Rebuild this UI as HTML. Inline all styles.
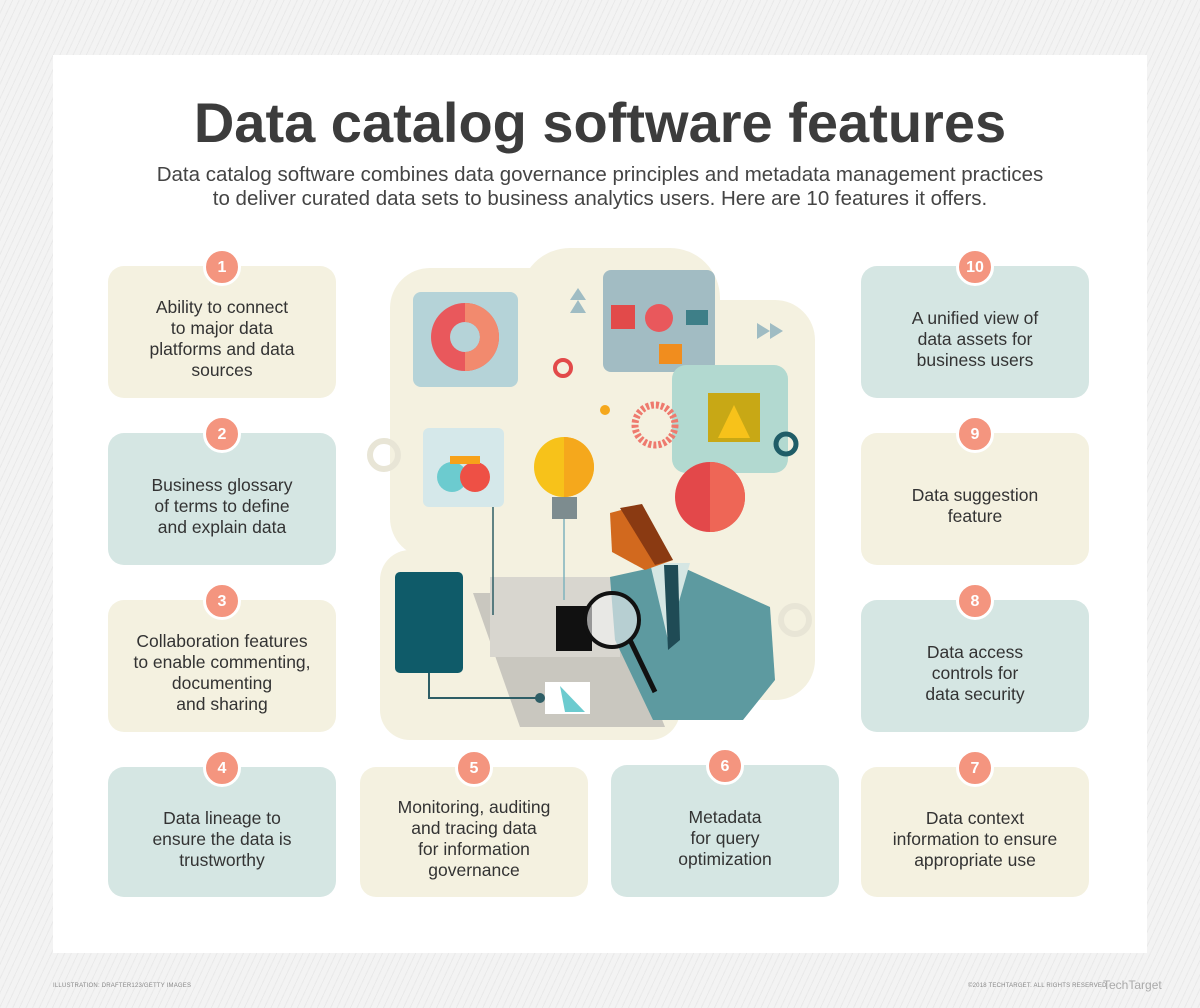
<!DOCTYPE html>
<html><head><meta charset="utf-8"><style>
*{margin:0;padding:0;box-sizing:border-box}
body{width:1200px;height:1008px;background:#f1f1f1;background-image:repeating-linear-gradient(115deg,#f3f3f3 0 5px,#e9e9e9 5px 6px);position:relative;overflow:hidden;font-family:"Liberation Sans",sans-serif;color:#3a3a3a}
.panel{position:absolute;left:53px;top:55px;width:1094px;height:898px;background:#fff}
h1{position:absolute;left:0;width:1200px;top:90px;text-align:center;font-size:56px;font-weight:bold;color:#3c3c3c;letter-spacing:0px}
.sub{position:absolute;left:0;width:1200px;top:163px;text-align:center;font-size:20.5px;line-height:24px;color:#444}
.card{position:absolute;width:228px;height:132px;border-radius:16px;display:flex;align-items:center;justify-content:center;text-align:center;font-size:17.5px;line-height:21px;padding:14px 8px 0;color:#333}
.c{background:#f4f1e0}.t{background:#d5e6e3}
.n{position:absolute;left:50%;top:-18px;margin-left:-19px;width:38px;height:38px;border-radius:50%;background:#f4957f;border:3px solid #fff;color:#fff;font-weight:bold;font-size:16px;display:flex;align-items:center;justify-content:center}
.foot{position:absolute;top:983px;font-size:6px;color:#888;letter-spacing:0.2px}
</style></head><body>
<div class="panel"></div>
<h1>Data catalog software features</h1>
<div class="sub">Data catalog software combines data governance principles and metadata management practices<br>to deliver curated data sets to business analytics users. Here are 10 features it offers.</div>

<svg style="position:absolute;left:0;top:0" width="1200" height="1008">
<g fill="#f4f1e0">
<rect x="390" y="268" width="190" height="290" rx="40"/>
<rect x="520" y="248" width="200" height="160" rx="50"/>
<rect x="640" y="300" width="175" height="400" rx="40"/>
<rect x="380" y="550" width="300" height="190" rx="30"/>
<rect x="470" y="400" width="300" height="300" rx="30"/>
</g>
<rect x="413" y="292" width="105" height="95" rx="8" fill="#b5d3d8"/>
<circle cx="465" cy="337" r="34" fill="#e9585c"/><circle cx="465" cy="337" r="15" fill="#b5d3d8"/>
<path d="M465 303 A34 34 0 0 1 465 371 L465 352 A15 15 0 0 0 465 322Z" fill="#f28a6e"/>
<rect x="423" y="428" width="81" height="79" rx="6" fill="#d5e8ea"/>
<circle cx="452" cy="477" r="15" fill="#6ccbcf"/><circle cx="475" cy="477" r="15" fill="#ee5045"/>
<rect x="450" y="456" width="30" height="8" fill="#f7a21a"/>
<rect x="603" y="270" width="112" height="102" rx="8" fill="#a2bcc3"/>
<rect x="611" y="305" width="24" height="24" fill="#e24a4a"/><circle cx="659" cy="318" r="14" fill="#e9585c"/>
<rect x="686" y="310" width="22" height="15" fill="#3e7f88"/><rect x="659" y="344" width="23" height="20" fill="#f18d1e"/>
<rect x="672" y="365" width="116" height="108" rx="14" fill="#b2d9d0"/>
<rect x="708" y="393" width="52" height="49" fill="#c8a815"/><polygon points="734,405 718,438 750,438" fill="#f7c21a"/>
<circle cx="655" cy="425" r="20" fill="none" stroke="#ee7a6e" stroke-width="7" stroke-dasharray="3 2"/>
<circle cx="564" cy="467" r="30" fill="#f7c21a"/><path d="M564 437 A30 30 0 0 1 564 497Z" fill="#f5a81c"/>
<rect x="552" y="497" width="25" height="22" fill="#7d8c8f"/>
<circle cx="710" cy="497" r="35" fill="#e3484a"/><path d="M710 462 A35 35 0 0 1 710 532Z" fill="#ee6656"/>
<circle cx="563" cy="368" r="8" fill="none" stroke="#e24a4a" stroke-width="4"/>
<circle cx="786" cy="444" r="10" fill="none" stroke="#1f5d67" stroke-width="5"/>
<polygon points="578,288 570,300 586,300" fill="#9fbcc3"/><polygon points="578,300 570,313 586,313" fill="#9fbcc3"/>
<polygon points="757,323 770,331 757,339" fill="#9fbcc3"/><polygon points="770,323 783,331 770,339" fill="#9fbcc3"/>
<circle cx="605" cy="410" r="5" fill="#f5a81c"/>
<polygon points="473,593 612,593 665,727 520,727" fill="#c9c7bf"/>
<rect x="490" y="577" width="130" height="80" fill="#d8d6cf"/>
<rect x="556" y="606" width="36" height="45" fill="#111"/>
<line x1="493" y1="507" x2="493" y2="615" stroke="#2e5e66" stroke-width="1.5"/>
<line x1="564" y1="519" x2="564" y2="600" stroke="#7fb3be" stroke-width="1.5"/>
<rect x="395" y="572" width="68" height="101" rx="5" fill="#0f5b69"/>
<polyline points="429,673 429,698 540,698" fill="none" stroke="#2e5e66" stroke-width="2"/>
<circle cx="540" cy="698" r="5" fill="#2e5e66"/>
<rect x="545" y="682" width="45" height="32" fill="#fff"/><path d="M560 686 L585 712 L565 712Z" fill="#6ccbcf"/>
<polygon points="610,577 673,563 770,607 775,680 743,720 653,720 615,640" fill="#5d9aa0"/>
<polygon points="650,563 690,563 668,640" fill="#d5e6e3"/><polygon points="664,565 678,565 680,640 668,650" fill="#1f4b55"/>
<path d="M610 513 L640 505 L673 560 L645 570 L612 552Z" fill="#d2691e"/>
<path d="M620 508 L642 504 L673 560 L655 565Z" fill="#8a3a12"/>
<circle cx="612" cy="620" r="27" fill="#f3f3f3" fill-opacity="0.6" stroke="#111" stroke-width="4"/>
<line x1="630" y1="640" x2="655" y2="692" stroke="#111" stroke-width="5"/>
<g fill="none" stroke="#e8e5d6" stroke-width="6"><circle cx="384" cy="455" r="14"/><circle cx="795" cy="620" r="14"/></g>
</svg>

<div class="card c" style="left:108px;top:266px"><div class="n">1</div>Ability to connect<br>to major data<br>platforms and data<br>sources</div>
<div class="card t" style="left:108px;top:433px"><div class="n">2</div>Business glossary<br>of terms to define<br>and explain data</div>
<div class="card c" style="left:108px;top:600px"><div class="n">3</div>Collaboration features<br>to enable commenting,<br>documenting<br>and sharing</div>
<div class="card t" style="left:108px;top:767px;height:130px"><div class="n">4</div>Data lineage to<br>ensure the data is<br>trustworthy</div>
<div class="card c" style="left:360px;top:767px;height:130px"><div class="n">5</div>Monitoring, auditing<br>and tracing data<br>for information<br>governance</div>
<div class="card t" style="left:611px;top:765px;height:132px"><div class="n">6</div>Metadata<br>for query<br>optimization</div>
<div class="card c" style="left:861px;top:767px;height:130px"><div class="n">7</div>Data context<br>information to ensure<br>appropriate use</div>
<div class="card t" style="left:861px;top:600px"><div class="n">8</div>Data access<br>controls for<br>data security</div>
<div class="card c" style="left:861px;top:433px"><div class="n">9</div>Data suggestion<br>feature</div>
<div class="card t" style="left:861px;top:266px"><div class="n">10</div>A unified view of<br>data assets for<br>business users</div>

<div class="foot" style="left:53px">ILLUSTRATION: DRAFTER123/GETTY IMAGES</div>
<div class="foot" style="left:968px">©2018 TECHTARGET. ALL RIGHTS RESERVED</div>
<div style="position:absolute;left:1103px;top:978px;font-size:12px;color:#aaa">TechTarget</div>
</body></html>
